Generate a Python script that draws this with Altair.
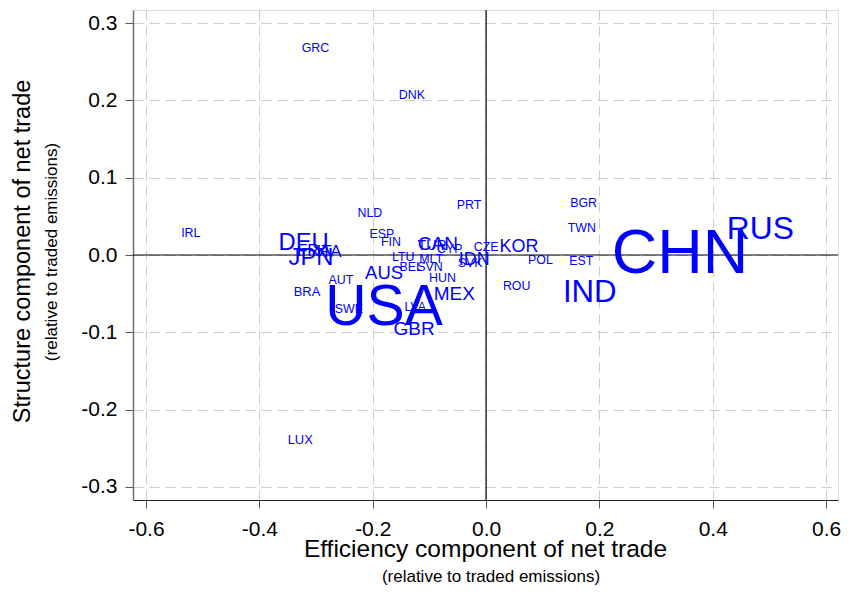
import altair as alt
import pandas as pd

countries = ["GRC", "DNK", "IRL", "NLD", "ESP", "FIN", "PRT", "BGR", "TWN", "EST",
             "RUS", "CHN", "IND", "POL", "ROU", "KOR", "CZE", "IDN", "SVK", "CAN",
             "TUR", "CYP", "LTU", "MLT", "BEL", "SVN", "HUN", "MEX", "LVA", "GBR",
             "USA", "AUS", "AUT", "BRA", "SWE", "DEU", "JPN", "FRA", "ITA", "LUX"]
efficiency = [-0.301, -0.131, -0.521, -0.205, -0.184, -0.168, -0.030, 0.172, 0.169, 0.168,
              0.484, 0.342, 0.183, 0.096, 0.054, 0.058, 0.000, -0.021, -0.028, -0.085,
              -0.095, -0.064, -0.146, -0.097, -0.132, -0.099, -0.077, -0.056, -0.125, -0.127,
              -0.180, -0.180, -0.256, -0.316, -0.242, -0.322, -0.309, -0.304, -0.277, -0.328]
structure = [0.268, 0.207, 0.028, 0.054, 0.027, 0.017, 0.065, 0.067, 0.035, -0.008,
             0.034, 0.001, -0.049, -0.007, -0.040, 0.010, 0.010, -0.007, -0.010, 0.014,
             0.012, 0.008, -0.003, -0.005, -0.016, -0.016, -0.030, -0.051, -0.067, -0.096,
             -0.068, -0.023, -0.032, -0.048, -0.070, 0.016, -0.004, 0.005, 0.004, -0.239]
# relative weight of each country (drives label size)
weight = [4.5, 4.5, 4.5, 4.5, 4.5, 4.5, 4.5, 4.5, 4.5, 4.5,
          41, 100, 40, 4.5, 4.5, 15, 4.5, 15, 4.5, 17,
          8, 4.5, 4.5, 4.5, 4.5, 4.5, 4.5, 17, 4.5, 17,
          89, 16, 4.5, 5.5, 4.5, 26, 26, 13, 13, 5.5]

x_ticks = [-0.6, -0.4, -0.2, 0.0, 0.2, 0.4, 0.6]
y_ticks = [-0.3, -0.2, -0.1, 0.0, 0.1, 0.2, 0.3]

x_title = "Efficiency component of net trade"
y_title = "Structure component of net trade"
sub_title = "(relative to traded emissions)"

df = pd.DataFrame({"country": countries, "eff": efficiency,
                   "struct": structure, "weight": weight})

FONT = "Liberation Sans"
W, H = 705, 490

xscale = alt.Scale(domain=[-0.623, 0.621], nice=False, zero=False)
yscale = alt.Scale(domain=[-0.317, 0.317], nice=False, zero=False)

label_expr = "(datum.value < -0.0001 ? '-' : '') + format(abs(datum.value), '.1f')"

common_axis = dict(labelExpr=label_expr, labelFont=FONT, labelFontSize=21, labelColor="black",
                   tickSize=8, tickColor="#555555", grid=True, gridColor="#cccccc",
                   gridDash=[10, 6], gridWidth=1, titleFont=FONT,
                   titleFontWeight="normal", titleColor="black", labelFlush=False,
                   labelOverlap=False, titleBaseline="middle", titleAlign="center")

xaxis = alt.Axis(values=x_ticks, title=x_title, labelPadding=10, domainColor="#222222",
                 domainWidth=1, titleX=352, titleY=49, titleFontSize=24.5, **common_axis)
yaxis = alt.Axis(values=y_ticks, title=y_title, labelPadding=8, domainColor="#707070",
                 domainWidth=1.5, titleX=-111, titleY=241, titleAngle=270,
                 titleFontSize=23.5, **common_axis)

labels = alt.Chart(df).mark_text(color="#0000ff", font=FONT, align="center",
                                 baseline="middle").encode(
    x=alt.X("eff:Q", scale=xscale, axis=xaxis),
    y=alt.Y("struct:Q", scale=yscale, axis=yaxis),
    size=alt.Size("weight:Q", scale=alt.Scale(domain=[0, 100], range=[10, 63]), legend=None),
    text="country:N",
)

vzero = pd.DataFrame({"eff": [0.0]})
hzero = pd.DataFrame({"struct": [0.0]})
vline = alt.Chart(vzero).mark_rule(color="black", strokeWidth=1.2).encode(
    x=alt.X("eff:Q", scale=xscale, axis=xaxis))
hline = alt.Chart(hzero).mark_rule(color="black", strokeWidth=1.2).encode(
    y=alt.Y("struct:Q", scale=yscale, axis=yaxis))

sub = pd.DataFrame({"t": [sub_title]})
xsub = alt.Chart(sub).mark_text(font=FONT, fontSize=17, color="black", align="center",
                                baseline="middle").encode(
    text="t:N", x=alt.value(358), y=alt.value(567))
ysub = alt.Chart(sub).mark_text(font=FONT, fontSize=17, color="black", align="center",
                                baseline="middle", angle=270).encode(
    text="t:N", x=alt.value(-81), y=alt.value(242))

chart = alt.layer(vline, hline, labels, xsub, ysub).properties(
    width=W, height=H,
    autosize=alt.AutoSizeParams(type="none"),
    padding={"left": 125, "top": 2, "right": 10, "bottom": 86},
).configure_view(strokeWidth=0, stroke="transparent").configure(background="white")

chart.save("out.html", embed_options={"renderer": "svg", "actions": False})
